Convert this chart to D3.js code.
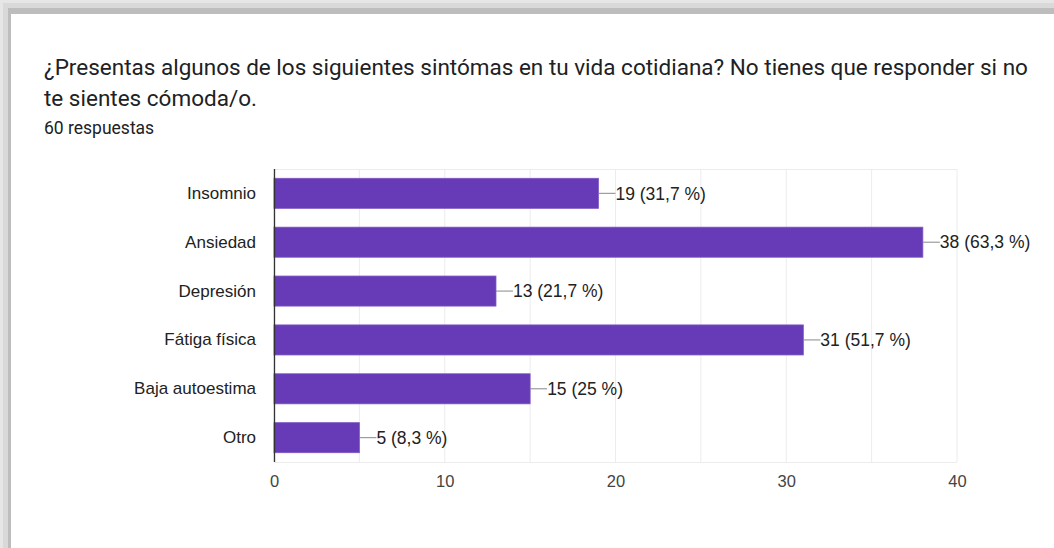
<!DOCTYPE html>
<html>
<head>
<meta charset="utf-8">
<script src="https://cdn.jsdelivr.net/npm/d3@7"></script>
<style>
  html, body { margin: 0; padding: 0; background: #fff; }
  svg { display: block; }
</style>
</head>
<body>
<svg id="chart" width="1054" height="548"></svg>
<script>
// Survey answers: symptoms in daily life (60 respondents)
const categories = ["Insomnio", "Ansiedad", "Depresión", "Fátiga física", "Baja autoestima", "Otro"];
const counts = [19, 38, 13, 31, 15, 5];
const percents = ["31,7", "63,3", "21,7", "51,7", "25", "8,3"];
const tickValues = [0, 10, 20, 30, 40];
const gridValues = [0, 5, 10, 15, 20, 25, 30, 35, 40];

const titleLines = [
  "¿Presentas algunos de los siguientes sintómas en tu vida cotidiana? No tienes que responder si no",
  "te sientes cómoda/o."
];
const subtitle = "60 respuestas";

const svg = d3.select("#chart");
const W = 1054, H = 548;

// card frame with soft grey edge
svg.append("rect").attr("x", 0).attr("y", 0).attr("width", W).attr("height", H).attr("fill", "#e6e6e6");
svg.append("rect").attr("x", 3).attr("y", 3).attr("width", W).attr("height", H).attr("fill", "#d9d9d9");
svg.append("rect").attr("x", 8).attr("y", 8).attr("width", W).attr("height", H).attr("fill", "#bdbdbd");
svg.append("rect").attr("x", 11).attr("y", 14).attr("width", W).attr("height", H).attr("fill", "#ffffff");

// heading
const head = svg.append("g").attr("font-family", "Roboto, sans-serif").attr("fill", "#202124");
head.selectAll("text.title").data(titleLines).join("text")
  .attr("class", "title")
  .attr("x", 44)
  .attr("y", (d, i) => 75 + i * 31)
  .attr("font-size", 22.5)
  .text(d => d);
head.append("text").attr("x", 44).attr("y", 134).attr("font-size", 17.5).text(subtitle);

// plot area
const plotL = 274, plotR = 957, plotT = 169, plotB = 462;
const x = d3.scaleLinear().domain([0, 40]).range([plotL, plotR]);
const y = d3.scaleBand().domain(categories).range([plotT, plotB]).paddingInner(0.385).paddingOuter(0.19);

const g = svg.append("g");

// vertical grid
g.selectAll("line.grid").data(gridValues).join("line")
  .attr("class", "grid")
  .attr("x1", d => x(d)).attr("x2", d => x(d))
  .attr("y1", plotT).attr("y2", plotB)
  .attr("stroke", "#ececec").attr("stroke-width", 1);
g.append("line").attr("x1", plotL).attr("x2", plotR).attr("y1", plotT + 0.5).attr("y2", plotT + 0.5)
  .attr("stroke", "#ececec");
g.append("line").attr("x1", plotL).attr("x2", plotR).attr("y1", plotB + 0.5).attr("y2", plotB + 0.5)
  .attr("stroke", "#ececec");

// bars
const rows = categories.map((c, i) => ({ c, v: counts[i], p: percents[i] }));
g.selectAll("rect.bar").data(rows).join("rect")
  .attr("class", "bar")
  .attr("x", x(0))
  .attr("y", d => y(d.c))
  .attr("width", d => x(d.v) - x(0))
  .attr("height", y.bandwidth())
  .attr("fill", "#673ab7")
  .attr("stroke", "#7e57c2").attr("stroke-width", 0.8);

// value labels with leader lines
g.selectAll("line.lead").data(rows).join("line")
  .attr("class", "lead")
  .attr("x1", d => x(d.v)).attr("x2", d => x(d.v) + 17)
  .attr("y1", d => y(d.c) + y.bandwidth() / 2).attr("y2", d => y(d.c) + y.bandwidth() / 2)
  .attr("stroke", "#888").attr("stroke-width", 1);
g.selectAll("text.val").data(rows).join("text")
  .attr("class", "val")
  .attr("x", d => x(d.v) + 17)
  .attr("y", d => y(d.c) + y.bandwidth() / 2)
  .attr("dy", "0.36em")
  .attr("font-family", "Liberation Sans, Arial, sans-serif")
  .attr("font-size", 17.5)
  .attr("fill", "#222")
  .text(d => `${d.v} (${d.p} %)`);

// category axis
const yAxis = g.append("g").attr("transform", `translate(${plotL},0)`)
  .call(d3.axisLeft(y).tickSize(0).tickPadding(18));
yAxis.select(".domain").remove();
yAxis.selectAll("text")
  .attr("font-family", "Liberation Sans, Arial, sans-serif")
  .attr("font-size", 17).attr("fill", "#222");
g.append("line").attr("x1", plotL + 0.5).attr("x2", plotL + 0.5).attr("y1", plotT).attr("y2", plotB)
  .attr("stroke", "#333").attr("stroke-width", 1.3);

// value axis
const xAxis = g.append("g").attr("transform", `translate(0,${plotB})`)
  .call(d3.axisBottom(x).tickValues(tickValues).tickSize(0).tickPadding(13).tickFormat(d3.format("d")));
xAxis.select(".domain").remove();
xAxis.selectAll("text")
  .attr("font-family", "Liberation Sans, Arial, sans-serif")
  .attr("font-size", 16.5).attr("fill", "#444");
</script>
</body>
</html>
